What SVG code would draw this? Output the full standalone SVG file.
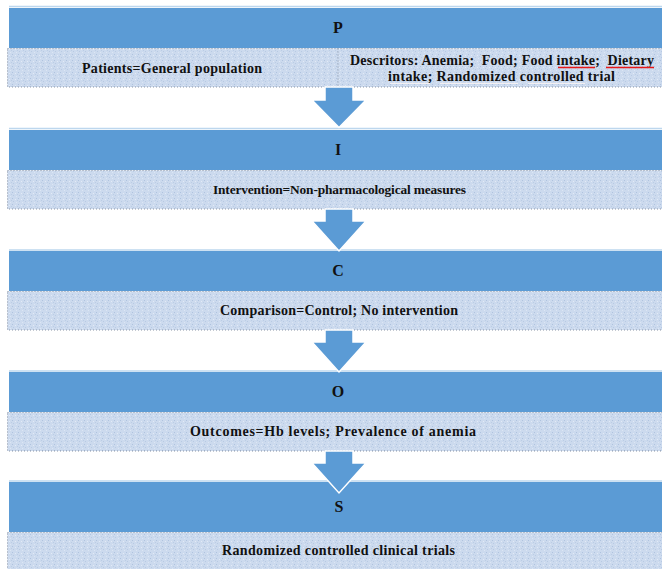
<svg xmlns="http://www.w3.org/2000/svg" width="662" height="569" viewBox="0 0 662 569">
<style>
.hdr{fill:#5B9BD5;}
.topline{stroke:#BDD7EE;stroke-width:1.5;}
.box{fill:url(#tex);stroke:#8C96A6;stroke-width:1;stroke-dasharray:1 2;}
.t{font-family:"Liberation Serif","Times New Roman",serif;font-weight:bold;fill:#111;text-anchor:middle;white-space:pre;}
.lbl{font-size:14px;}
.big{font-size:16px;}
.arr{fill:#5B9BD5;stroke:#FFFFFF;stroke-width:1.5;stroke-linejoin:miter;}
.red{stroke:#E81818;stroke-width:1.6;}
.faint{stroke:#F4F0F2;stroke-width:1.2;}
</style>
<defs>
<pattern id="tex" width="6" height="6" patternUnits="userSpaceOnUse">
<rect width="6" height="6" fill="#CCDAEE"/>
<rect x="0" y="0" width="1" height="1" fill="#AFC3DF"/>
<rect x="3" y="1" width="1" height="1" fill="#E2EAF6"/>
<rect x="1" y="3" width="1" height="1" fill="#B8CAE3"/>
<rect x="4" y="4" width="1" height="1" fill="#DCE6F4"/>
<rect x="5" y="2" width="1" height="1" fill="#BBCDE5"/>
</pattern>
</defs>
<rect width="662" height="569" fill="#FFFFFF"/>

<g id="node-P">
<line class="topline" x1="9" y1="6.5" x2="662" y2="6.5"/>
<rect class="hdr" x="9" y="8" width="653" height="40"/>
<text class="t big" x="338" y="33">P</text>
<rect class="box" x="7.5" y="48.5" width="660" height="38.5"/>
<line x1="338" y1="48.5" x2="338" y2="87" stroke="#8C96A6" stroke-width="1" stroke-dasharray="1 2"/>
<text class="t lbl" x="172" y="73" textLength="180" lengthAdjust="spacing">Patients=General population</text>
<text class="t lbl" x="502" y="65" textLength="304" lengthAdjust="spacing" xml:space="preserve">Descritors: Anemia;  Food; Food intake;  Dietary</text>
<text class="t lbl" x="501.5" y="81" textLength="227" lengthAdjust="spacing">intake; Randomized controlled trial</text>
<line class="red" x1="558" y1="67.5" x2="595" y2="67.5"/>
<line class="red" x1="606" y1="67.5" x2="654" y2="67.5"/>
<line class="faint" x1="390" y1="83.5" x2="430" y2="83.5"/>
<line class="faint" x1="440" y1="83.5" x2="518" y2="83.5"/>
<line class="faint" x1="528" y1="83.5" x2="585" y2="83.5"/>
</g>

<g id="node-I">
<line class="topline" x1="9" y1="128.5" x2="662" y2="128.5"/>
<rect class="hdr" x="9" y="130" width="653" height="40"/>
<text class="t big" x="338" y="155">I</text>
<rect class="box" x="7.5" y="170.5" width="660" height="38.5"/>
<text class="t" style="font-size:13.4px" x="339.5" y="194" textLength="253" lengthAdjust="spacing">Intervention=Non-pharmacological measures</text>
</g>

<g id="node-C">
<line class="topline" x1="9" y1="250" x2="662" y2="250"/>
<rect class="hdr" x="9" y="251" width="653" height="40"/>
<text class="t big" x="338" y="276">C</text>
<rect class="box" x="7.5" y="291.5" width="660" height="38.5"/>
<text class="t lbl" x="339" y="315" textLength="238" lengthAdjust="spacing">Comparison=Control; No intervention</text>
</g>

<g id="node-O">
<line class="topline" x1="9" y1="371" x2="662" y2="371"/>
<rect class="hdr" x="9" y="372" width="653" height="40"/>
<text class="t big" x="338" y="397">O</text>
<rect class="box" x="7.5" y="412.5" width="660" height="38.5"/>
<text class="t lbl" x="333" y="436" textLength="286" lengthAdjust="spacing">Outcomes=Hb levels; Prevalence of anemia</text>
</g>

<g id="node-S">
<line class="topline" x1="9" y1="481" x2="662" y2="481"/>
<rect class="hdr" x="9" y="482" width="653" height="50"/>
<text class="t big" x="339" y="512">S</text>
<rect class="box" x="7.5" y="532.5" width="660" height="40"/>
<text class="t lbl" x="338.5" y="555" textLength="233" lengthAdjust="spacing">Randomized controlled clinical trials</text>
</g>

<g id="connectors">
<polygon class="arr" points="325,87 353,87 353,100 366,100 339,127.5 312,100 325,100"/>
<polygon class="arr" points="325,209 353,209 353,221 366,221 339,251 312,221 325,221"/>
<polygon class="arr" points="325,330 353,330 353,342 366,342 339,372 312,342 325,342"/>
<polygon class="arr" points="325,451 353,451 353,463 366,463 339,493 312,463 325,463"/>
</g>
</svg>
